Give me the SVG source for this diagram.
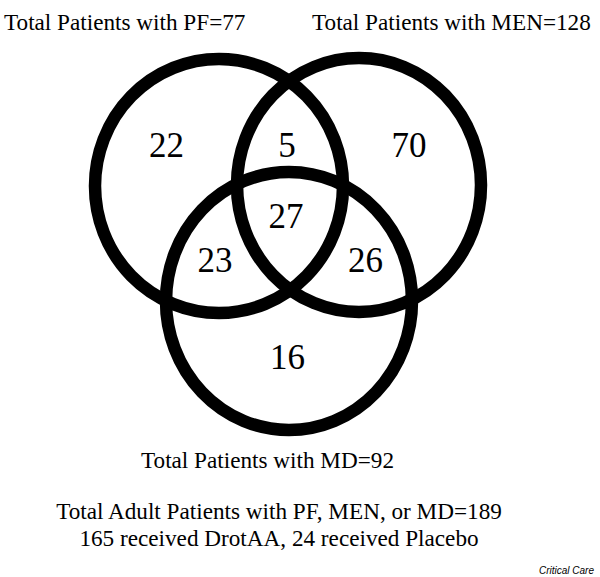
<svg xmlns="http://www.w3.org/2000/svg" width="600" height="577" viewBox="0 0 600 577">
<style>
.set{fill:none;stroke:#000;stroke-width:12.5}
.lbl{font-family:"Liberation Serif","Times New Roman",serif;font-size:23.2px;fill:#000}
.num{font-family:"Liberation Serif","Times New Roman",serif;font-size:35px;fill:#000;text-anchor:middle}
.src{font-family:"Liberation Sans",Arial,sans-serif;font-size:10px;font-style:italic;fill:#000;text-anchor:end}
</style>
<rect width="600" height="577" fill="#fff"/>
<g id="set-pf">
<ellipse class="set" cx="219" cy="186" rx="124" ry="127"/>
<text class="lbl" x="4" y="29.5">Total Patients with PF=77</text>
</g>
<g id="set-men">
<ellipse class="set" cx="359" cy="185" rx="122" ry="127"/>
<text class="lbl" x="312" y="29.5">Total Patients with MEN=128</text>
</g>
<g id="set-md">
<ellipse class="set" cx="289" cy="301" rx="123" ry="129"/>
<text class="lbl" x="267.5" y="468" text-anchor="middle">Total Patients with MD=92</text>
</g>
<g id="counts">
<text class="num" x="166.5" y="157">22</text>
<text class="num" x="287" y="157">5</text>
<text class="num" x="409" y="157">70</text>
<text class="num" x="286" y="228">27</text>
<text class="num" x="215" y="272">23</text>
<text class="num" x="365.5" y="272">26</text>
<text class="num" x="287.5" y="369">16</text>
</g>
<g id="summary">
<text class="lbl" x="279" y="519" text-anchor="middle">Total Adult Patients with PF, MEN, or MD=189</text>
<text class="lbl" x="279" y="546" text-anchor="middle">165 received DrotAA, 24 received Placebo</text>
</g>
<text class="src" x="594" y="574">Critical Care</text>
</svg>
